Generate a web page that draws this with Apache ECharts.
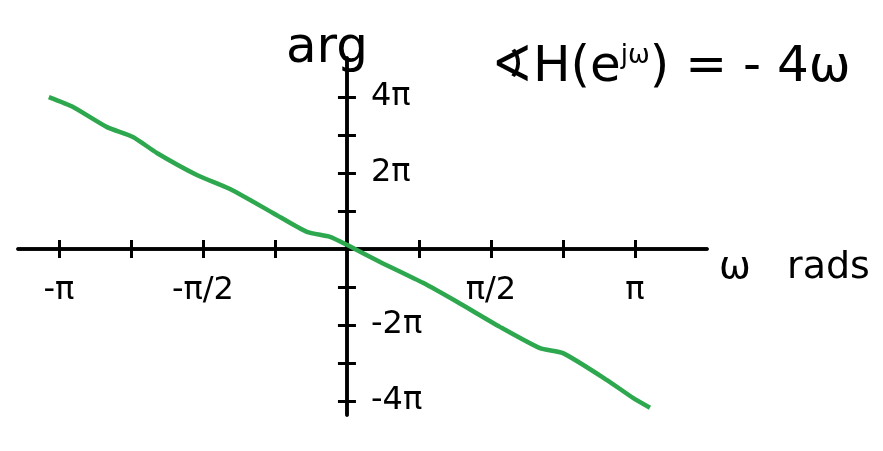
<!DOCTYPE html>
<html><head><meta charset="utf-8">
<script src="https://cdn.jsdelivr.net/npm/echarts@6/dist/echarts.min.js"></script>
<style>html,body{margin:0;padding:0;background:#fff}#c{width:883px;height:451px}</style>
</head><body><div id="c"></div>
<script>
// values in units of π
const omega = [-1.035, -0.951, -0.833, -0.743, -0.660, -0.521, -0.406, -0.257, -0.139, -0.059, 0, 0.115, 0.264, 0.382, 0.531, 0.670, 0.750, 0.903, 0.993, 1.052];
const phase = [4.0, 3.74, 3.21, 2.95, 2.53, 1.95, 1.58, 0.95, 0.45, 0.32, 0.11, -0.34, -0.89, -1.39, -2.05, -2.61, -2.74, -3.45, -3.92, -4.18];
const xTicks = [-1, -0.75, -0.5, -0.25, 0.25, 0.5, 0.75, 1];
const xLabelVals = [-1, -0.5, 0.5, 1];
const xLabelText = ['-π', '-π/2', 'π/2', 'π'];
const yTicks = [-4, -3, -2, -1, 1, 2, 3, 4];
const yLabelVals = [-4, -2, 2, 4];
const yLabelText = ['-4π', '-2π', '2π', '4π'];

const FONT = 'DejaVu Sans';
const X_MIN = -1.142, X_MAX = 1.25, Y_MIN = -4.37, Y_MAX = 5.03;
const GRID = {left: 18, right: 176, top: 58, bottom: 36};
const lineStyle = {color: '#000', width: 3.5};
const tickStyle = {color: '#000', width: 3};

function xAx(kind) {
  const base = {type: 'value', min: X_MIN, max: X_MAX, position: 'bottom', splitLine: {show: false}};
  if (kind === 'label') {
    return Object.assign(base, {
      axisLine: {show: false, onZero: false}, axisTick: {show: false},
      offset: -(451 - GRID.bottom - 249),
      axisLabel: {show: true, customValues: xLabelVals, margin: 26, fontSize: 32, color: '#000', fontFamily: FONT,
        formatter: v => xLabelText[xLabelVals.indexOf(+(+v).toFixed(2))] || ''}
    });
  }
  return Object.assign(base, {
    axisLine: {show: true, onZero: true, onZeroAxisIndex: 0, lineStyle},
    axisTick: {show: true, customValues: xTicks, length: 9, inside: kind !== 'main', lineStyle: tickStyle},
    axisLabel: {show: false},
    name: kind === 'main' ? 'ω   rads' : '', nameLocation: 'end', nameGap: 12,
    nameTextStyle: {fontSize: 38, color: '#000', fontFamily: FONT, verticalAlign: 'top'}
  });
}
function yAx(kind) {
  const base = {type: 'value', min: Y_MIN, max: Y_MAX, position: 'left', splitLine: {show: false}};
  if (kind === 'label') {
    return Object.assign(base, {
      axisLine: {show: false, onZero: false}, axisTick: {show: false},
      offset: -(347 - GRID.left),
      axisLabel: {show: true, inside: true, customValues: yLabelVals, margin: 24, fontSize: 32, color: '#000', fontFamily: FONT,
        formatter: v => yLabelText[yLabelVals.indexOf(Math.round(v))] || ''}
    });
  }
  return Object.assign(base, {
    axisLine: {show: true, onZero: true, onZeroAxisIndex: 0, lineStyle},
    axisTick: {show: true, customValues: yTicks, length: 9, inside: kind !== 'main', lineStyle: tickStyle},
    axisLabel: {show: false},
    name: kind === 'main' ? 'arg' : '', nameLocation: 'end', nameGap: -16,
    nameTextStyle: {fontSize: 50, color: '#000', fontFamily: FONT, padding: [0, 40, 0, 0]}
  });
}

const chart = echarts.init(document.getElementById('c'), null, {renderer: 'canvas'});
chart.setOption({
  animation: false,
  backgroundColor: '#fff',
  title: {
    text: '∢H(e{s|jω}) = - 4ω', left: 486, top: 38,
    textStyle: {fontSize: 50, fontWeight: 'normal', color: '#000', fontFamily: FONT,
      rich: {s: {fontSize: 26, verticalAlign: 'top', padding: [0, 0, 22, 0], color: '#000', fontFamily: FONT}}}
  },
  grid: Object.assign({containLabel: false, outerBoundsMode: 'none'}, GRID),
  xAxis: [xAx('main'), xAx('twin'), xAx('label')],
  yAxis: [yAx('main'), yAx('twin'), yAx('label')],
  series: [{
    type: 'line', xAxisIndex: 0, yAxisIndex: 0,
    data: omega.map((w, i) => [w, phase[i]]),
    showSymbol: false, smooth: 0.2,
    lineStyle: {color: '#2ea84f', width: 4.5}
  }]
});
</script></body></html>
